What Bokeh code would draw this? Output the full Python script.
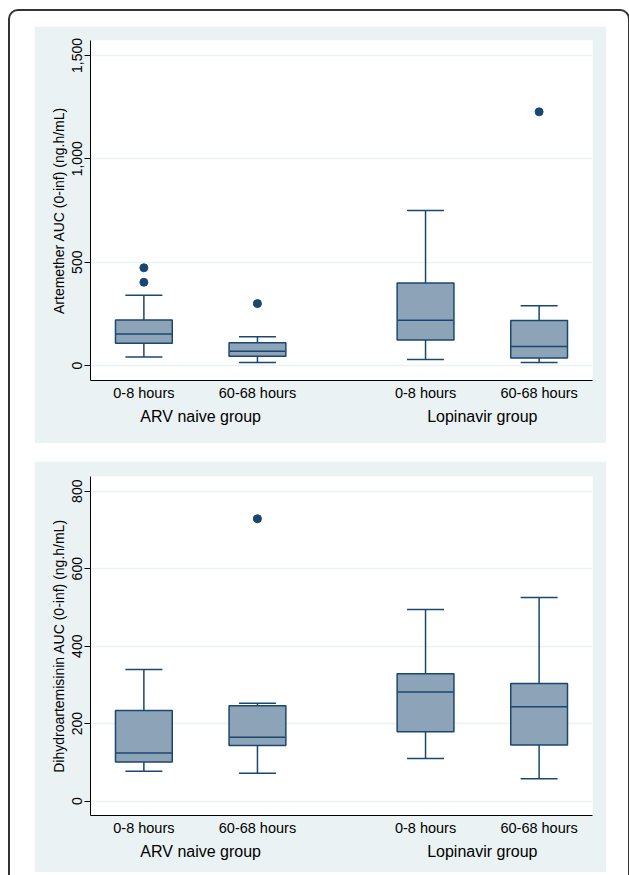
from bokeh.plotting import figure
from bokeh.layouts import column
from bokeh.models import (ColumnDataSource, FactorRange, Range1d, FixedTicker,
                          NumeralTickFormatter)
from bokeh.embed import file_html
from bokeh.resources import INLINE

# ---------------- data ----------------
groups = ["ARV naive group", "Lopinavir group"]
times = ["0-8 hours", "60-68 hours"]

# Artemether AUC (0-inf) (ng.h/mL)
art_lower = [42, 15, 29, 15]
art_q1 = [108, 45, 124, 37]
art_median = [153, 69, 219, 92]
art_q3 = [221, 111, 400, 218]
art_upper = [340, 140, 750, 290]
art_out_group = ["ARV naive group", "ARV naive group", "ARV naive group", "Lopinavir group"]
art_out_time = ["0-8 hours", "0-8 hours", "60-68 hours", "60-68 hours"]
art_out_value = [473, 403, 300, 1227]
art_ticks = [0, 500, 1000, 1500]

# Dihydroartemisinin AUC (0-inf) (ng.h/mL)
dha_lower = [77, 72, 110, 58]
dha_q1 = [101, 144, 179, 145]
dha_median = [124, 165, 282, 244]
dha_q3 = [234, 246, 329, 304]
dha_upper = [340, 253, 495, 526]
dha_out_group = ["ARV naive group"]
dha_out_time = ["60-68 hours"]
dha_out_value = [729]
dha_ticks = [0, 200, 400, 600, 800]

NAVY = "#1a476f"
FILL = "#8da3b7"
BG = "#eaf2f3"
FONT = "Liberation Sans"

factors = [(g, t) for g in groups for t in times]


def make_panel(lower, q1, med, q3, upper, og, ot, ov, ticks, yr, ylabel,
               height, top_b, bot_b, margin):
    p = figure(width=572, height=height, x_range=FactorRange(*factors,
               group_padding=0.48, range_padding=-0.03,
               range_padding_units="absolute"),
               y_range=Range1d(*yr), output_backend="svg", toolbar_location=None,
               min_border_left=56, min_border_right=14, min_border_top=top_b,
               min_border_bottom=bot_b)
    p.margin = margin
    p.background_fill_color = "white"
    p.border_fill_color = BG
    p.outline_line_color = None

    src = ColumnDataSource(dict(x=factors, lower=lower, q1=q1, med=med, q3=q3, upper=upper))
    # whiskers
    p.segment(x0="x", y0="q3", x1="x", y1="upper", source=src, line_color=NAVY, line_width=1.5)
    p.segment(x0="x", y0="q1", x1="x", y1="lower", source=src, line_color=NAVY, line_width=1.5)
    # caps
    p.scatter(x="x", y="upper", source=src, marker="dash", size=37, line_color=NAVY, line_width=1.5)
    p.scatter(x="x", y="lower", source=src, marker="dash", size=37, line_color=NAVY, line_width=1.5)
    # boxes
    p.vbar(x="x", bottom="q1", top="q3", width=0.5, source=src, fill_color=FILL,
           line_color=NAVY, line_width=1.5)
    # medians
    p.scatter(x="x", y="med", source=src, marker="dash", size=56, line_color=NAVY, line_width=1.5)
    # outliers
    osrc = ColumnDataSource(dict(x=list(zip(og, ot)), y=ov))
    p.scatter(x="x", y="y", source=osrc, size=8, fill_color=NAVY, line_color=NAVY)

    # y axis
    ya = p.yaxis[0]
    ya.ticker = FixedTicker(ticks=ticks)
    ya.formatter = NumeralTickFormatter(format="0,0")
    ya.major_label_orientation = "vertical"
    ya.axis_label = ylabel
    ya.axis_label_text_font = FONT
    ya.axis_label_text_font_size = "14px"
    ya.axis_label_text_font_style = "normal"
    ya.axis_label_text_color = "black"
    ya.axis_label_standoff = 3
    ya.major_label_text_font = FONT
    ya.major_label_text_font_size = "14px"
    ya.major_label_text_color = "black"
    ya.major_label_standoff = 2
    ya.major_tick_out = 6
    ya.major_tick_in = 0
    ya.minor_tick_line_color = None
    ya.axis_line_color = "black"
    ya.major_tick_line_color = "black"

    p.ygrid.ticker = FixedTicker(ticks=ticks)
    p.ygrid.grid_line_color = BG
    p.ygrid.grid_line_width = 1.5
    p.xgrid.grid_line_color = None

    xa = p.xaxis[0]
    xa.major_tick_line_color = None
    xa.minor_tick_line_color = None
    xa.major_tick_out = 0
    xa.major_tick_in = 0
    xa.axis_line_color = "black"
    xa.separator_line_color = None
    xa.major_label_text_font = FONT
    xa.major_label_text_font_size = "14.5px"
    xa.major_label_text_color = "black"
    xa.major_label_orientation = "horizontal"
    xa.major_label_standoff = 4
    xa.group_text_font = FONT
    xa.group_text_font_size = "16px"
    xa.group_text_font_style = "normal"
    xa.group_text_color = "black"
    xa.group_label_orientation = "horizontal"
    return p


p1 = make_panel(art_lower, art_q1, art_median, art_q3, art_upper,
                art_out_group, art_out_time, art_out_value, art_ticks,
                (-72, 1572), "Artemether AUC (0-inf) (ng.h/mL)",
                417, 14, 63, (15, 22, 0, 24))
p2 = make_panel(dha_lower, dha_q1, dha_median, dha_q3, dha_upper,
                dha_out_group, dha_out_time, dha_out_value, dha_ticks,
                (-37, 838), "Dihydroartemisinin AUC (0-inf) (ng.h/mL)",
                411, 15, 57, (18, 22, 30, 24))

layout = column(p1, p2, margin=(9, 0, 0, 8),
                styles={"border": "2px solid #333", "border-radius": "10px",
                        "background-color": "white"})

open("out.html", "w").write(file_html(layout, INLINE))
